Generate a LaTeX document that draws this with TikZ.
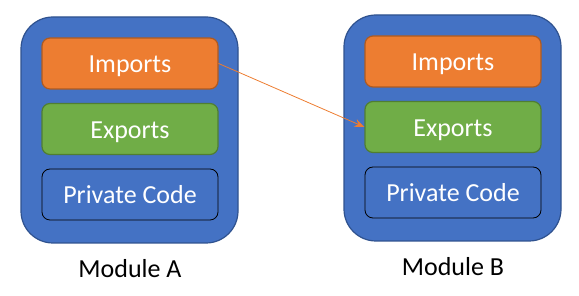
\documentclass[tikz,border=0pt]{standalone}
\usepackage{fontspec}
\setmainfont{Carlito}
\usetikzlibrary{arrows.meta}
\definecolor{modblue}{HTML}{4472C4}
\definecolor{modedge}{HTML}{2F528F}
\definecolor{imporange}{HTML}{ED7D31}
\definecolor{impedge}{HTML}{AE5A21}
\definecolor{expgreen}{HTML}{70AD47}
\definecolor{expedge}{HTML}{507E32}
\tikzset{
  module/.style={draw=modedge, fill=modblue, line width=1.2pt, rounded corners=32pt,
    minimum width=217pt, minimum height=226pt, inner sep=0pt},
  part/.style={line width=1.2pt, rounded corners=8pt, minimum width=176pt,
    minimum height=51pt, inner sep=0pt, text height=19pt, text depth=0pt,
    text=white, font=\fontsize{26}{30}\selectfont},
  imports/.style={part, draw=impedge, fill=imporange},
  exports/.style={part, draw=expedge, fill=expgreen},
  private/.style={part, draw=black, line width=0.8pt, fill=modblue},
  modlabel/.style={anchor=base, inner sep=0pt, font=\fontsize{26}{30}\selectfont}
}
\begin{document}
\begin{tikzpicture}[x=1pt, y=-1pt]
  \useasboundingbox (0,0) rectangle (579,296);
  \node[module] (modA) at (129.5,130) {};
  \node[imports] (impA) at (130,63.5) {Imports};
  \node[exports] (expA) at (130,129) {Exports};
  \node[private] (privA) at (130,194.5) {Private Code};
  \node[modlabel] (labA) at (130,278) {Module A};
  \node[module] (modB) at (452.5,128) {};
  \node[imports] (impB) at (453,61.5) {Imports};
  \node[exports] (expB) at (453,127) {Exports};
  \node[private] (privB) at (453,192.5) {Private Code};
  \node[modlabel] (labB) at (453,276) {Module B};
  \draw[imporange, line width=0.8pt, -{Stealth[length=10pt, width=8pt]}] (impA.east) -- (expB.west);
\end{tikzpicture}
\end{document}
